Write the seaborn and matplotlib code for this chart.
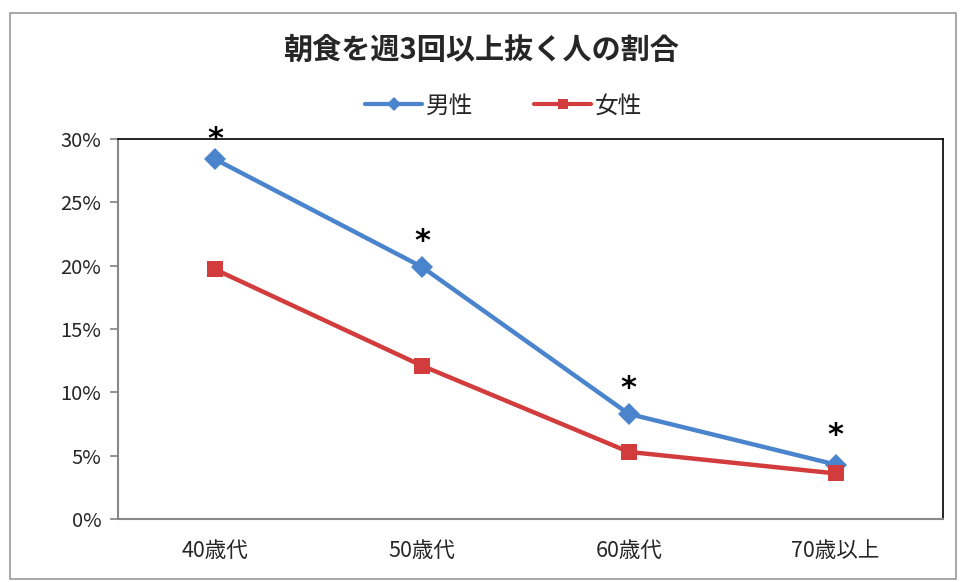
import numpy as np
import pandas as pd
import matplotlib
matplotlib.use("Agg")
import matplotlib.pyplot as plt
import seaborn as sns
from matplotlib.ticker import FixedLocator, FuncFormatter
from matplotlib.patches import Rectangle

# data (percent)
ages = ['40歳代', '50歳代', '60歳代', '70歳以上']
male = [28.4, 19.9, 8.3, 4.3]
female = [19.7, 12.1, 5.3, 3.6]
sexes = ['男性', '女性']

sns.set_theme(style='white')
plt.rcParams['font.family'] = ['Noto Sans CJK JP', 'DejaVu Sans']

df = pd.DataFrame({
    'age': ages * 2,
    'rate': male + female,
    'sex': [sexes[0]] * len(ages) + [sexes[1]] * len(ages),
})

colors = {'男性': '#4A84CC', '女性': '#D23C3C'}
marks = {'男性': 'D', '女性': 's'}

fig = plt.figure(figsize=(9.61, 5.82), dpi=100)
ax = fig.add_axes([0.1228, 0.1082, 0.8585, 0.653])

sns.lineplot(data=df, x='age', y='rate', hue='sex', style='sex',
             palette=colors, markers=marks, dashes=False, linewidth=3.2,
             markersize=11, markeredgewidth=0, sort=False, ax=ax)

# asterisks over male points (significant difference)
offs = [14, 18, 18, 21]
for i, (v, o) in enumerate(zip(male, offs)):
    ax.annotate('*', xy=(i, v), xytext=(0, o), textcoords='offset points',
                ha='center', va='center', fontsize=22, fontweight='bold',
                color='black', family='DejaVu Sans')

ax.set_xlim(-0.47, len(ages) - 0.48)
ax.set_ylim(0, 30)
ax.yaxis.set_major_locator(FixedLocator([0, 5, 10, 15, 20, 25, 30]))
ax.yaxis.set_major_formatter(FuncFormatter(lambda v, p: '%d%%' % v))
ax.xaxis.set_minor_locator(FixedLocator(np.arange(-0.5, len(ages), 1.0)))
ax.tick_params(axis='x', which='major', length=0, pad=15, labelsize=15.5)
ax.tick_params(axis='x', which='minor', length=6, color='#888888', direction='out')
ax.tick_params(axis='y', length=6, color='#888888', direction='out', left=True,
               labelsize=14.5, pad=6)
ax.set_xlabel('')
ax.set_ylabel('')

for s in ['top', 'right']:
    ax.spines[s].set_color('black')
    ax.spines[s].set_linewidth(1.2)
for s in ['left', 'bottom']:
    ax.spines[s].set_color('#888888')
    ax.spines[s].set_linewidth(1.5)

leg = ax.legend(loc='center', bbox_to_anchor=(0.524, 0.818),
                bbox_transform=fig.transFigure, ncol=2, frameon=False,
                fontsize=17, handlelength=2.4, columnspacing=2.6,
                handletextpad=0.15, title=None)
for h in leg.legend_handles:
    h.set_markersize(7)
    h.set_linewidth(3)

fig.text(0.5, 0.915, '朝食を週3回以上抜く人の割合', ha='center', va='center',
         fontsize=21, fontweight='bold')

fig.patches.append(Rectangle((0.01, 0.006), 0.985, 0.972, transform=fig.transFigure,
                             fill=False, edgecolor='#999999', linewidth=1.2))

fig.savefig('out.png', dpi=100, facecolor='white')
